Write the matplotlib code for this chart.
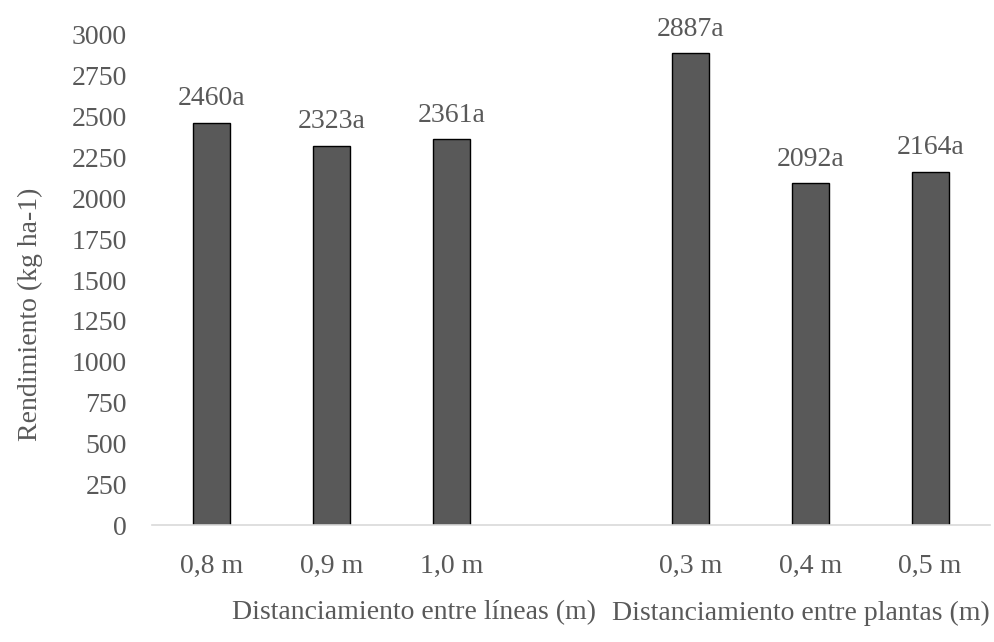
import matplotlib
matplotlib.use("Agg")
import matplotlib.pyplot as plt
import numpy as np

# datos
categorias = ["0,8 m", "0,9 m", "1,0 m", "", "0,3 m", "0,4 m", "0,5 m"]
rendimiento = [2460, 2323, 2361, np.nan, 2887, 2092, 2164]
etiquetas = ["2460a", "2323a", "2361a", "", "2887a", "2092a", "2164a"]
grupos = ["Distanciamiento entre líneas (m)", "Distanciamiento entre plantas (m)"]
yticks = list(range(0, 3001, 250))

plt.rcParams["font.family"] = ["Liberation Serif", "DejaVu Serif"]
texto = "#595959"
fs = 20

fig = plt.figure(figsize=(9.95, 6.42), dpi=100)
ax = fig.add_axes([0.1528, 0.1822, 0.8422, 0.7633])

x = np.arange(len(categorias))
ax.bar(x, rendimiento, width=0.31, color="#595959", edgecolor="black", linewidth=1.0)

# etiquetas sobre las barras
for xi, v, lab in zip(x, rendimiento, etiquetas):
    if lab:
        ax.annotate(lab, (xi, v), xytext=(0, 8.5), textcoords="offset points",
                    ha="center", va="bottom", fontsize=fs, color=texto)

ax.set_xlim(-0.5, len(categorias) - 0.5)
ax.set_ylim(0, 3000)
ax.set_yticks(yticks)
ax.set_xticks(x)
ax.set_xticklabels(categorias)
ax.tick_params(axis="both", length=0, labelsize=fs, labelcolor=texto)
ax.tick_params(axis="y", pad=18)
ax.tick_params(axis="x", pad=21)

for s in ["top", "right", "left"]:
    ax.spines[s].set_visible(False)
ax.spines["bottom"].set_color("#d9d9d9")
ax.spines["bottom"].set_linewidth(1.2)

fig.text(30 / 995, 1 - 314 / 642, "Rendimiento (kg ha-1)", rotation=90,
         ha="center", va="center", fontsize=fs, color=texto)

fig.text(414 / 995, 1 - 613 / 642, grupos[0], ha="center", va="center",
         fontsize=fs, color=texto)
fig.text(801 / 995, 1 - 613 / 642, grupos[1], ha="center", va="center",
         fontsize=fs, color=texto)

fig.savefig("out.png", dpi=100)
plt.close(fig)
